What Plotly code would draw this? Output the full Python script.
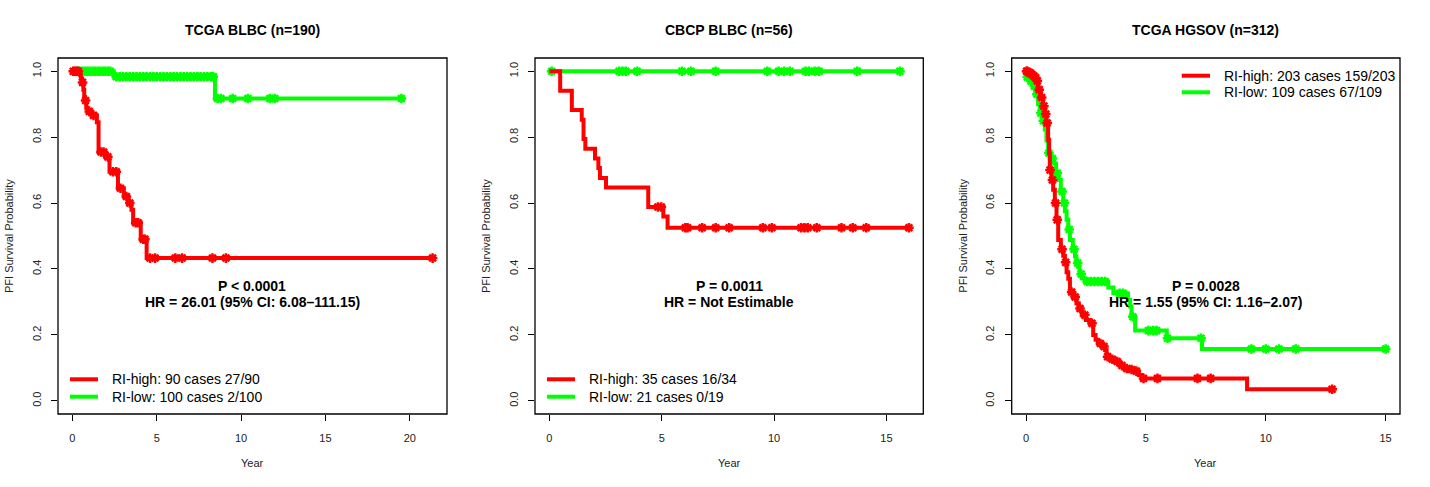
import numpy as np
import plotly.graph_objects as go

W, H = 1430, 487

# ---------------- data ----------------
titles = ["TCGA BLBC (n=190)", "CBCP BLBC (n=56)", "TCGA HGSOV (n=312)"]
p_texts = ["P < 0.0001", "P = 0.0011", "P = 0.0028"]
hr_texts = ["HR = 26.01 (95% CI: 6.08\u2013111.15)", "HR = Not Estimable",
            "HR = 1.55 (95% CI: 1.16\u20132.07)"]
legend_high = ["RI-high: 90 cases 27/90", "RI-high: 35 cases 16/34", "RI-high: 203 cases 159/203"]
legend_low = ["RI-low: 100 cases 2/100", "RI-low: 21 cases 0/19", "RI-low: 109 cases 67/109"]
x_ticks = [[0, 5, 10, 15, 20], [0, 5, 10, 15], [0, 5, 10, 15]]
y_ticks = [0.0, 0.2, 0.4, 0.6, 0.8, 1.0]
y_ticktext = ["0.0", "0.2", "0.4", "0.6", "0.8", "1.0"]

# Panel 1: TCGA BLBC
red1_t = [0.45, 0.5, 0.58, 0.65, 0.7, 0.75, 0.82, 0.9, 1.15, 1.45, 1.55, 1.95, 2.2, 2.7,
          3.05, 3.3, 3.5, 3.6, 4.05, 4.4]
red1_s = [0.989, 0.978, 0.966, 0.944, 0.922, 0.911, 0.889, 0.878, 0.866, 0.845, 0.755, 0.74,
          0.695, 0.645, 0.62, 0.6, 0.58, 0.54, 0.49, 0.433]
red1_cens = [0.05, 0.15, 0.25, 0.35, 0.6, 0.78, 1.0, 1.25, 1.7, 1.85, 2.1, 2.4, 2.6, 2.85,
             3.2, 3.4, 3.75, 3.9, 4.2, 4.3, 4.6, 4.9, 6.1, 6.5, 8.3, 9.1, 21.35]
green1_t = [2.45, 8.45]
green1_s = [0.983, 0.917]
green1_cens = [0.3, 0.45, 0.6, 0.75, 0.9, 1.05, 1.2, 1.35, 1.5, 1.65, 1.8, 1.95, 2.1, 2.25,
               2.6, 2.8, 3.0, 3.2, 3.4, 3.6, 3.8, 4.0, 4.2, 4.4, 4.6, 4.8, 5.0, 5.2, 5.4,
               5.6, 5.8, 6.0, 6.2, 6.4, 6.6, 6.8, 7.0, 7.2, 7.4, 7.6, 7.8, 8.0, 8.2, 8.35,
               8.6, 8.8, 9.5, 10.4, 11.7, 12.0, 19.5]

# Panel 2: CBCP BLBC
red2_t = [0.48, 1.0, 1.44, 1.52, 1.6, 2.03, 2.18, 2.25, 2.52, 4.4, 5.07, 5.26]
red2_s = [0.941, 0.882, 0.853, 0.794, 0.765, 0.735, 0.706, 0.676, 0.647, 0.588, 0.559, 0.525]
red2_cens = [4.83, 4.98, 6.05, 6.15, 6.8, 7.4, 8.0, 9.5, 9.9, 11.2, 11.35, 11.5, 11.9,
             13.0, 13.5, 14.1, 16.0]
green2_t = []
green2_s = []
green2_cens = [0.1, 3.1, 3.25, 3.4, 3.9, 5.9, 6.3, 7.4, 9.7, 10.2, 10.45, 10.7, 11.4,
               11.55, 11.8, 12.0, 13.7, 15.6]

# Panel 3: TCGA HGSOV
red3_t = [0.1, 0.2, 0.3, 0.36, 0.43, 0.5, 0.6, 0.71, 0.78, 0.85, 0.92, 0.96, 0.99, 1.06,
          1.13, 1.2, 1.27, 1.34, 1.45, 1.55, 1.62, 1.69, 1.76, 1.83, 1.95, 2.1, 2.2, 2.32,
          2.5, 2.66, 2.8, 2.9, 3.0, 3.15, 3.3, 3.36, 3.5, 3.7, 3.9, 4.06, 4.3, 4.55, 4.7,
          4.83, 9.22]
red3_s = [0.995, 0.99, 0.985, 0.98, 0.97, 0.944, 0.92, 0.894, 0.87, 0.843, 0.792, 0.75,
          0.70, 0.67, 0.64, 0.6, 0.549, 0.488, 0.46, 0.44, 0.42, 0.39, 0.37, 0.33, 0.315,
          0.296, 0.28, 0.26, 0.245, 0.235, 0.2, 0.185, 0.174, 0.165, 0.154, 0.134, 0.126,
          0.119, 0.107, 0.098, 0.095, 0.09, 0.078, 0.068, 0.035]
red3_cens = [0.02, 0.05, 0.12, 0.17, 0.25, 0.33, 0.4, 0.47, 0.55, 0.65, 0.74, 0.82, 0.88,
             1.0, 1.1, 1.23, 1.3, 1.5, 1.65, 1.9, 2.05, 2.25, 2.45, 2.75, 3.1, 3.25, 3.4,
             3.6, 3.8, 4.0, 4.2, 4.4, 4.6, 4.9, 5.48, 7.15, 7.7, 12.77]
green3_t = [0.02, 0.15, 0.29, 0.4, 0.5, 0.57, 0.68, 0.78, 0.85, 0.92, 1.02, 1.13, 1.25,
            1.34, 1.45, 1.55, 1.62, 1.69, 1.76, 1.83, 1.95, 2.04, 2.1, 2.17, 2.23, 2.32,
            2.45, 3.43, 3.64, 4.25, 4.34, 4.4, 4.55, 5.87, 7.34]
green3_s = [0.982, 0.97, 0.954, 0.93, 0.9, 0.873, 0.85, 0.823, 0.79, 0.752, 0.735, 0.72,
            0.69, 0.67, 0.635, 0.6, 0.575, 0.549, 0.52, 0.488, 0.46, 0.438, 0.418, 0.407,
            0.385, 0.372, 0.362, 0.344, 0.326, 0.306, 0.286, 0.255, 0.213, 0.19, 0.157]
green3_cens = [0.05, 0.2, 0.35, 0.45, 0.62, 0.72, 0.95, 1.1, 1.3, 1.5, 1.6, 1.8, 2.0, 2.15,
               2.3, 2.55, 2.7, 2.85, 3.0, 3.15, 3.3, 3.9, 4.05, 4.45, 5.1, 5.3, 5.45, 5.9,
               7.3, 9.4, 10.0, 10.55, 11.25, 15.0]

panels = [
    (red1_t, red1_s, red1_cens, green1_t, green1_s, green1_cens),
    (red2_t, red2_s, red2_cens, green2_t, green2_s, green2_cens),
    (red3_t, red3_s, red3_cens, green3_t, green3_s, green3_cens),
]

RED = "#FF0000"
GREEN = "#00FF00"
FONT = "Liberation Sans, Arial, sans-serif"

# ---------------- layout geometry (pixels) ----------------
frames_px = [(58, 447), (535, 923.3), (1011.7, 1400)]
top_px, bot_px = 58, 414


def px(x):
    return x / W


def py(y):
    return 1 - y / H


def step_value(times, surv, t):
    k = np.searchsorted(np.asarray(times, dtype=float), t, side="right")
    return 1.0 if k == 0 else surv[k - 1]


fig = go.Figure()
layout = dict(width=W, height=H, margin=dict(l=0, r=0, t=0, b=0),
              paper_bgcolor="white", plot_bgcolor="white", showlegend=False,
              font=dict(family=FONT, color="black"))
annotations = []
shapes = []

for i, (rt, rs, rc, gt, gs, gc) in enumerate(panels):
    xa = "x" if i == 0 else f"x{i+1}"
    ya = "y" if i == 0 else f"y{i+1}"
    xmax = max(max(rc), max(gc))
    for (tt, ss, cc, col) in [(gt, gs, gc, GREEN), (rt, rs, rc, RED)]:
        end = max(cc + tt)
        xs = [0.0] + list(tt) + [end]
        ys = [1.0] + list(ss) + [ss[-1] if len(ss) else 1.0]
        fig.add_trace(go.Scatter(x=xs, y=ys, mode="lines", line=dict(color=col, width=4, shape="hv"),
                                 xaxis=xa, yaxis=ya, hoverinfo="skip"))
        cy = [step_value(tt, ss, c) for c in cc]
        fig.add_trace(go.Scatter(x=cc, y=cy, mode="markers",
                                 marker=dict(symbol="asterisk-open", size=8, color=col,
                                             line=dict(color=col, width=2.5)),
                                 xaxis=xa, yaxis=ya, hoverinfo="skip"))
    l, r = frames_px[i]
    axis_common = dict(showgrid=False, zeroline=False, showline=False, ticks="outside",
                       ticklen=6, tickwidth=1, tickcolor="black",
                       tickfont=dict(size=11, family=FONT, color="#222"))
    layout["xaxis" if i == 0 else f"xaxis{i+1}"] = dict(
        domain=[px(l), px(r)], range=[-0.04 * xmax, 1.04 * xmax], anchor=ya,
        tickvals=x_ticks[i], ticklabelstandoff=8, **axis_common)
    layout["yaxis" if i == 0 else f"yaxis{i+1}"] = dict(
        domain=[py(bot_px), py(top_px)], range=[-0.04, 1.04], anchor=xa,
        tickvals=y_ticks, ticktext=y_ticktext, tickangle=-90, ticklabelstandoff=6, **axis_common)
    # frame
    shapes.append(dict(type="rect", xref=f"{xa} domain", yref=f"{ya} domain", x0=0, x1=1, y0=0, y1=1,
                       line=dict(color="black", width=1.3), fillcolor="rgba(0,0,0,0)", layer="above"))
    cx = (l + r) / 2
    # title
    annotations.append(dict(text=f"<b>{titles[i]}</b>", x=px(cx), y=py(30), xref="paper", yref="paper",
                            showarrow=False, font=dict(size=14, family=FONT, color="black"),
                            xanchor="center", yanchor="middle"))
    # axis titles
    annotations.append(dict(text="Year", x=px(cx), y=py(463), xref="paper", yref="paper",
                            showarrow=False, font=dict(size=11, family=FONT, color="#222"),
                            xanchor="center", yanchor="middle"))
    annotations.append(dict(text="PFI Survival Probability", x=px(l - 49), y=py((top_px + bot_px) / 2),
                            xref="paper", yref="paper", textangle=-90, showarrow=False,
                            font=dict(size=11, family=FONT, color="#222"),
                            xanchor="center", yanchor="middle"))
    # stats text
    annotations.append(dict(text=f"<b>{p_texts[i]}</b>", x=px(cx), y=py(286), xref="paper", yref="paper",
                            showarrow=False, font=dict(size=14, family=FONT, color="black"),
                            xanchor="center", yanchor="middle"))
    annotations.append(dict(text=f"<b>{hr_texts[i]}</b>", x=px(cx), y=py(301.7), xref="paper",
                            yref="paper", showarrow=False,
                            font=dict(size=14, family=FONT, color="black"),
                            xanchor="center", yanchor="middle"))
    # legend
    if i < 2:
        lx0, lx1, tx = l + 12, l + 40, l + 52
        ly = [379.3, 396.7]
    else:
        lx0, lx1, tx = 1181.7, 1210, 1221.7
        ly = [75.7, 92.3]
    for lab, col, yy in [(legend_high[i], RED, ly[0]), (legend_low[i], GREEN, ly[1])]:
        shapes.append(dict(type="line", xref="paper", yref="paper", x0=px(lx0), x1=px(lx1),
                           y0=py(yy), y1=py(yy), line=dict(color=col, width=4)))
        annotations.append(dict(text=lab, x=px(tx), y=py(yy), xref="paper", yref="paper",
                                showarrow=False, font=dict(size=14, family=FONT, color="black"),
                                xanchor="left", yanchor="middle"))

layout["annotations"] = annotations
layout["shapes"] = shapes
fig.update_layout(**layout)
fig.write_html("out.html", config={"displayModeBar": False},
               post_script="document.body.style.margin='0';document.body.style.overflow='hidden';")
